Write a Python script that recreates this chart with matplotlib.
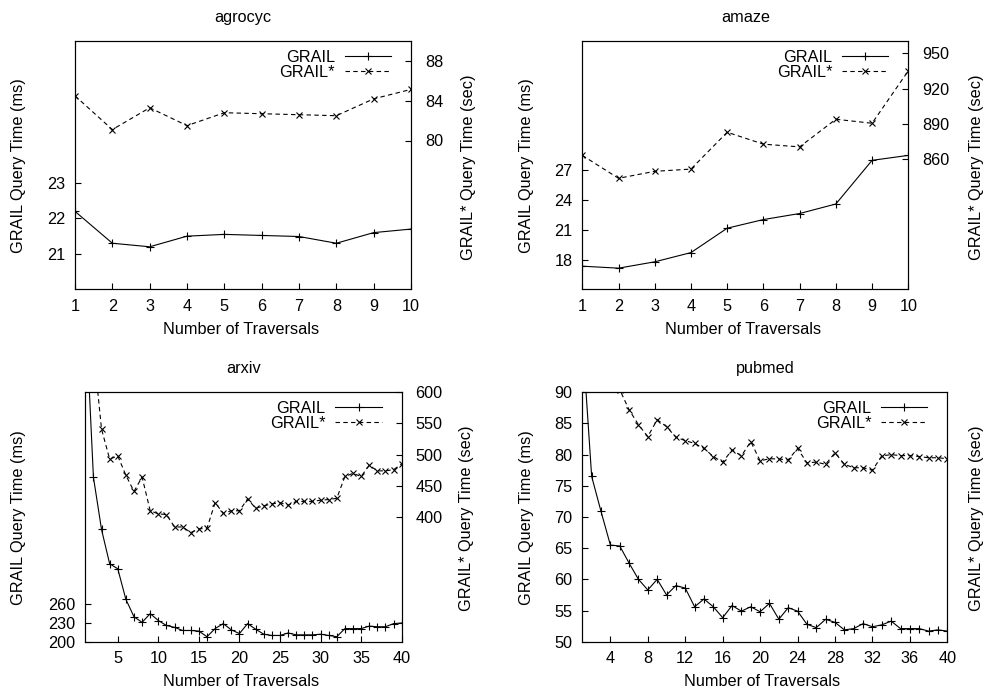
import matplotlib
matplotlib.use("Agg")
import matplotlib.pyplot as plt
from matplotlib.lines import Line2D

plt.rcParams['font.family'] = ['Liberation Sans', 'DejaVu Sans']
plt.rcParams['font.size'] = 11.7

W, H = 983, 692

# -----------------------
# Data
# -----------------------
agro_x = list(range(1, 11))
agro_grail = [22.2, 21.3, 21.2, 21.5, 21.55, 21.52, 21.49, 21.3, 21.6, 21.7]
agro_star = [84.5, 81.1, 83.3, 81.5, 82.8, 82.7, 82.6, 82.5, 84.2, 85.15]

amaze_x = list(range(1, 11))
amaze_grail = [17.33, 17.13, 17.77, 18.7, 21.16, 22.03, 22.64, 23.6, 28.0, 28.5]
amaze_star = [863.4, 844.0, 849.9, 851.8, 883.0, 872.9, 870.6, 894.0, 890.6, 935.0]

arxiv_x = list(range(1, 41))
arxiv_grail = [740, 464, 380, 325, 317, 268, 240, 231, 245, 234,
               226, 223, 218, 218, 217, 208, 221, 229, 219, 213,
               229, 220, 212, 210, 210, 214, 211, 211, 211, 212,
               210, 208, 221, 221, 221, 225, 224, 224, 229, 230]
arxiv_star = [800, 670, 541, 493, 498, 467, 441, 464, 410, 405,
              404, 384, 384, 375, 381, 382, 423, 406, 410, 410,
              429, 414, 418, 421, 423, 419, 425, 425, 425, 427,
              428, 430, 465, 470, 465, 483, 474, 474, 476, 485]

pub_x = list(range(1, 41))
pub_grail = [99.0, 76.5, 70.9, 65.5, 65.35, 62.6, 60.0, 58.3, 60.0, 57.5,
             59.0, 58.6, 55.6, 56.85, 55.6, 53.85, 55.8, 54.9, 55.6, 54.8,
             56.15, 53.6, 55.45, 54.9, 52.8, 52.25, 53.6, 53.1, 51.9, 52.1,
             52.9, 52.4, 52.7, 53.3, 52.1, 52.1, 52.1, 51.7, 51.9, 51.7]
pub_star = [110.0, 102.0, 97.0, 93.5, 90.4, 87.2, 84.8, 82.9, 85.6, 84.5,
            82.8, 82.25, 81.8, 81.0, 79.7, 78.8, 80.75, 79.8, 82.1, 79.0,
            79.35, 79.3, 79.15, 81.0, 78.7, 78.8, 78.45, 80.3, 78.45, 77.9,
            77.9, 77.5, 79.8, 80.0, 79.85, 79.85, 79.7, 79.5, 79.5, 79.35]

DASH = (0, (4, 3))


def rect(l, r, t, b):
    return [l / W, 1 - b / H, (r - l) / W, (b - t) / H]


def ftext(x, y, s, **kw):
    fig.text(x / W, 1 - y / H, s, ha='center', va='center', **kw)


def panel(box, title, x, g, gs, xlim, xticks, ylim, yticks, y2lim, y2ticks):
    ax = fig.add_axes(rect(*box))
    ax2 = ax.twinx()
    ax.plot(x, g, color='black', lw=0.8, marker='+', ms=6, mew=0.8)
    ax2.plot(x, gs, color='black', lw=0.8, ls=DASH, marker='x', ms=5, mew=0.8)
    ax.set_xlim(*xlim)
    ax.set_xticks(xticks)
    ax.set_ylim(*ylim)
    ax.set_yticks(yticks)
    ax2.set_ylim(*y2lim)
    ax2.set_yticks(y2ticks)
    for a in (ax, ax2):
        for sp in a.spines.values():
            sp.set_linewidth(0.8)
    ax.tick_params(axis='x', direction='in', length=4.5, width=0.8, pad=7, top=False)
    ax.tick_params(axis='y', direction='in', length=4.5, width=0.8, pad=7, right=False)
    ax2.tick_params(axis='y', direction='in', length=4.5, width=0.8, pad=10)
    ax.set_title(title, pad=14, fontsize=11.7)

    h1 = Line2D([], [], color='black', lw=0.8, marker='+', ms=6, mew=0.8)
    h2 = Line2D([], [], color='black', lw=0.8, ls=DASH, marker='x', ms=5, mew=0.8)
    hpx = box[3] - box[2]
    wpx = box[1] - box[0]
    ax2.legend([h1, h2], ['GRAIL', 'GRAIL*'], loc='upper right',
               bbox_to_anchor=(1 - 20 / wpx, 1 - 8.5 / hpx),
               frameon=False, markerfirst=False, numpoints=1,
               handlelength=2.85, handletextpad=0.6, labelspacing=0.0,
               borderpad=0, borderaxespad=0)
    return ax, ax2


fig = plt.figure(figsize=(W / 100, H / 100), dpi=100)

# agrocyc
panel((75, 411, 41.3, 289.3), 'agrocyc', agro_x, agro_grail, agro_star,
      (1, 10), agro_x, (20, 27), [21, 22, 23], (65, 90), [80, 84, 88])
ftext(18.3, 166, 'GRAIL Query Time (ms)', rotation=90)
ftext(468.3, 167, 'GRAIL* Query Time (sec)', rotation=90)
ftext(241, 330, 'Number of Traversals')

# amaze
panel((582.3, 908.3, 41.3, 289.3), 'amaze', amaze_x, amaze_grail, amaze_star,
      (1, 10), amaze_x, (15, 40), [18, 21, 24, 27], (750, 960), [860, 890, 920, 950])
ftext(526, 166, 'GRAIL Query Time (ms)', rotation=90)
ftext(976.5, 167, 'GRAIL* Query Time (sec)', rotation=90)
ftext(743, 330, 'Number of Traversals')

# arxiv
panel((85.3, 401.7, 392.3, 641.7), 'arxiv', arxiv_x, arxiv_grail, arxiv_star,
      (1, 40), list(range(5, 41, 5)), (200, 600), [200, 230, 260],
      (200, 600), [400, 450, 500, 550, 600])
ftext(18.3, 518, 'GRAIL Query Time (ms)', rotation=90)
ftext(466.7, 518, 'GRAIL* Query Time (sec)', rotation=90)
ftext(241, 681.5, 'Number of Traversals')

# pubmed
panel((582.3, 947.3, 392.3, 641.7), 'pubmed', pub_x, pub_grail, pub_star,
      (1, 40), list(range(4, 41, 4)), (50, 90), list(range(50, 91, 5)),
      (50, 90), [])
ftext(526, 518, 'GRAIL Query Time (ms)', rotation=90)
ftext(976.5, 518, 'GRAIL* Query Time (sec)', rotation=90)
ftext(762.5, 681.5, 'Number of Traversals')

fig.savefig('out.png', dpi=100)
